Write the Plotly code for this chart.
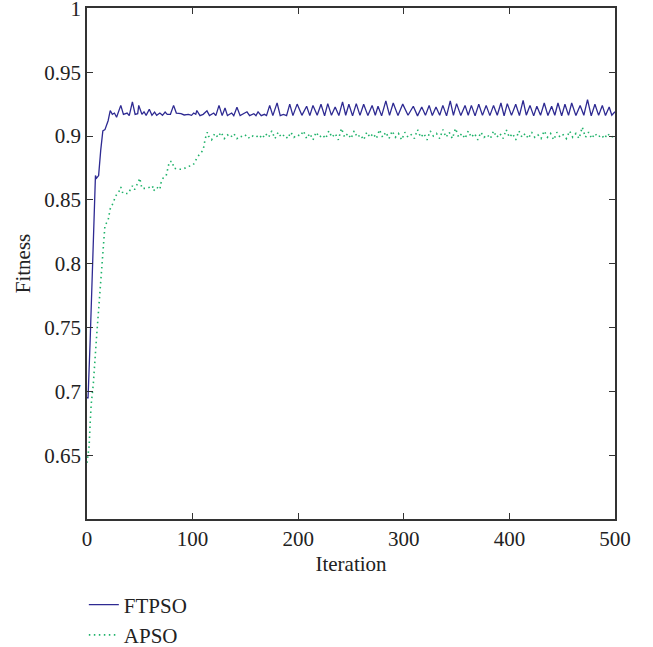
import plotly.graph_objects as go

# ---------------- data ----------------
ftpso_iter = [0, 1, 3, 6, 8, 9, 11, 13, 15, 17, 18, 20, 22, 24, 26, 28, 32, 34.5, 38, 40,
              43, 45.6, 48, 49, 52, 54, 56, 59, 61.5, 64, 66, 69, 71.5, 74, 76, 79, 82, 84.6,
              89, 92, 96, 99, 101, 103, 104, 107, 110, 113.6, 116, 120, 122, 125, 128, 130.7,
              133, 137, 139, 142, 145, 148, 151.5, 154, 158, 160, 162, 165, 168, 170, 173,
              176, 180, 183, 186, 189, 192, 195, 199, 203.5, 208, 211, 214, 218, 221.6, 225,
              228, 231.5, 235, 238.5, 242, 245, 248, 251.5, 255, 258.5, 262, 266, 270, 273,
              275.6, 279, 283, 286.5, 290, 294.5, 299, 304, 309, 313, 317, 320.5, 324, 327,
              330.5, 334, 337, 340.5, 344, 347, 350, 354, 358, 361, 364, 367.5, 371, 374.5,
              378, 381.5, 385, 388.5, 392, 395, 398, 402, 406, 409.5, 413, 416, 419.5, 423,
              426, 429.5, 433, 436.5, 440, 443, 446, 449.5, 452.6, 456, 459, 463, 467, 470.5,
              474, 477.5, 481, 484.5, 488, 491, 494.5, 497, 500]
ftpso_fit = [0.695, 0.695, 0.74, 0.818, 0.869, 0.867, 0.869, 0.889, 0.904, 0.905, 0.907, 0.912,
             0.920, 0.917, 0.918, 0.9147, 0.924, 0.917, 0.918, 0.916, 0.9267, 0.917, 0.9175,
             0.924, 0.917, 0.919, 0.9162, 0.921, 0.9162, 0.9188, 0.9162, 0.918, 0.9162, 0.9188,
             0.917, 0.917, 0.924, 0.918, 0.9175, 0.9165, 0.917, 0.9162, 0.918, 0.917, 0.920,
             0.916, 0.917, 0.9197, 0.916, 0.918, 0.916, 0.924, 0.916, 0.922, 0.916, 0.918,
             0.916, 0.9225, 0.916, 0.9175, 0.919, 0.916, 0.9175, 0.916, 0.919, 0.916, 0.917,
             0.916, 0.924, 0.916, 0.926, 0.916, 0.917, 0.916, 0.925, 0.916, 0.925, 0.9162,
             0.9233, 0.9160, 0.924, 0.9163, 0.9249, 0.9158, 0.9254, 0.9162, 0.9228, 0.9160,
             0.9267, 0.9163, 0.9249, 0.9158, 0.9254, 0.9162, 0.9249, 0.9160, 0.924, 0.9163,
             0.9233, 0.9158, 0.9275, 0.9162, 0.9259, 0.9160, 0.925, 0.9163, 0.9233, 0.9158,
             0.9228, 0.9162, 0.924, 0.9160, 0.9228, 0.9163, 0.924, 0.9158, 0.9275, 0.9162,
             0.9254, 0.9160, 0.924, 0.9163, 0.924, 0.9158, 0.9249, 0.9162, 0.924, 0.9160,
             0.924, 0.9163, 0.9259, 0.9158, 0.9254, 0.9162, 0.9249, 0.9160, 0.928, 0.9163,
             0.924, 0.9158, 0.9233, 0.9162, 0.9259, 0.9160, 0.9233, 0.9163, 0.9259, 0.9158,
             0.9249, 0.9162, 0.9259, 0.9160, 0.924, 0.9163, 0.9285, 0.9158, 0.9249, 0.9162,
             0.924, 0.9160, 0.9228, 0.9163, 0.919]

apso_iter = [0, 2, 3, 4, 6, 7, 8, 9, 10, 11, 12, 13, 14, 15, 16, 17, 20, 22, 25, 27, 30, 32,
             34, 39, 43, 45, 48, 50, 52, 57, 62, 63, 66, 69, 70, 72, 75, 77, 78, 81, 82, 86,
             91, 95, 100, 102, 104, 107, 110, 112, 114, 115,
             118, 121, 124, 127, 130, 133, 136, 139, 142, 145, 148, 151, 154, 157, 160, 163,
             166, 169, 172, 175, 178, 181, 184, 187, 190, 193, 196, 199, 202, 205, 208, 211,
             214, 217, 220, 223, 226, 229, 232, 235, 238, 241, 244, 247, 250, 253, 256, 259,
             262, 265, 268, 271, 274, 277, 280, 283, 286, 289, 292, 295, 298, 301, 304, 307,
             310, 313, 316, 319, 322, 325, 328, 331, 334, 337, 340, 343, 346, 349, 352, 355,
             358, 361, 364, 367, 370, 373, 376, 379, 382, 385, 388, 391, 394, 397, 400, 403,
             406, 409, 412, 415, 418, 421, 424, 427, 430, 433, 436, 439, 442, 445, 448, 451,
             454, 457, 460, 463, 466, 469, 472, 475, 478, 481, 484, 487, 490, 493, 496, 499]
apso_fit = [0.644, 0.657, 0.675, 0.690, 0.706, 0.721, 0.732, 0.742, 0.753, 0.764, 0.774,
            0.785, 0.795, 0.807, 0.821, 0.830, 0.834, 0.843, 0.848, 0.853, 0.856, 0.860,
            0.855, 0.855, 0.861, 0.858, 0.863, 0.867, 0.859, 0.859, 0.861, 0.857, 0.860,
            0.858, 0.863, 0.867, 0.869, 0.875, 0.880, 0.880, 0.875, 0.874, 0.874, 0.876,
            0.877, 0.879, 0.883, 0.886, 0.889, 0.898, 0.903, 0.900,
            0.897, 0.902, 0.899, 0.903, 0.898, 0.901, 0.899, 0.902, 0.898, 0.900, 0.899,
            0.901, 0.898, 0.900, 0.899, 0.901, 0.898, 0.902, 0.899, 0.904, 0.898, 0.903,
            0.899, 0.901, 0.898, 0.903, 0.899, 0.901, 0.900, 0.904, 0.898, 0.902, 0.897,
            0.903, 0.899, 0.901, 0.898, 0.904, 0.899, 0.902, 0.897, 0.906, 0.899, 0.902,
            0.898, 0.904, 0.899, 0.901, 0.897, 0.903, 0.899, 0.902, 0.898, 0.905, 0.899,
            0.903, 0.898, 0.904, 0.899, 0.902, 0.897, 0.903, 0.899, 0.901, 0.898, 0.905,
            0.899, 0.902, 0.897, 0.904, 0.900, 0.902, 0.898, 0.905, 0.899, 0.903, 0.898,
            0.906, 0.899, 0.902, 0.898, 0.904, 0.899, 0.902, 0.897, 0.903, 0.899, 0.901,
            0.898, 0.904, 0.899, 0.902, 0.898, 0.905, 0.899, 0.902, 0.897, 0.904, 0.899,
            0.902, 0.898, 0.903, 0.899, 0.901, 0.898, 0.904, 0.899, 0.902, 0.897, 0.903,
            0.899, 0.901, 0.898, 0.904, 0.899, 0.902, 0.898, 0.907, 0.899, 0.903, 0.898,
            0.902, 0.899, 0.901, 0.898, 0.902, 0.899, 0.900]

x_ticks = [0, 100, 200, 300, 400, 500]
y_ticks = [0.65, 0.7, 0.75, 0.8, 0.85, 0.9, 0.95, 1.0]
y_tick_text = ["0.65", "0.7", "0.75", "0.8", "0.85", "0.9", "0.95", "1"]

# ---------------- figure ----------------
FONT = "Liberation Serif, Times New Roman, serif"
TXT = "#222222"

fig = go.Figure()
fig.add_trace(go.Scatter(x=ftpso_iter, y=ftpso_fit, mode="lines", name="FTPSO",
                         line=dict(color="#2e2a92", width=1.3)))
fig.add_trace(go.Scatter(x=apso_iter, y=apso_fit, mode="lines", name="APSO",
                         line=dict(color="#1fb26a", width=1.6, dash="1.5px,3.5px")))

axis_common = dict(showline=True, linecolor="#333333", linewidth=1.5, mirror="ticks",
                   ticks="inside", ticklen=6, tickwidth=1.3, tickcolor="#333333",
                   showgrid=False, zeroline=False,
                   ticklabeloverflow="allow",
                   tickfont=dict(family=FONT, size=21, color=TXT))

fig.update_xaxes(range=[0, 500.01], tickvals=x_ticks, automargin="bottom",
                 title=dict(text="Iteration", font=dict(family=FONT, size=21, color=TXT),
                            standoff=6),
                 **axis_common)
fig.update_yaxes(range=[0.6, 1.0003], tickvals=y_ticks, ticktext=y_tick_text,
                 automargin="left",
                 title=dict(text="Fitness", font=dict(family=FONT, size=21, color=TXT),
                            standoff=8),
                 **axis_common)

fig.update_layout(
    width=653, height=647,
    margin=dict(l=87, r=38, t=8, b=128, autoexpand=False),
    plot_bgcolor="white", paper_bgcolor="white",
    font=dict(family=FONT, size=21, color=TXT),
    legend=dict(x=-0.006, xanchor="left", y=-0.128, yanchor="top",
                bgcolor="rgba(0,0,0,0)", tracegroupgap=0,
                font=dict(family=FONT, size=21, color=TXT)),
    showlegend=True,
)

fig.write_html("out.html", config={"displayModeBar": False},
               post_script="document.body.style.margin='0';document.body.style.overflow='hidden';")
